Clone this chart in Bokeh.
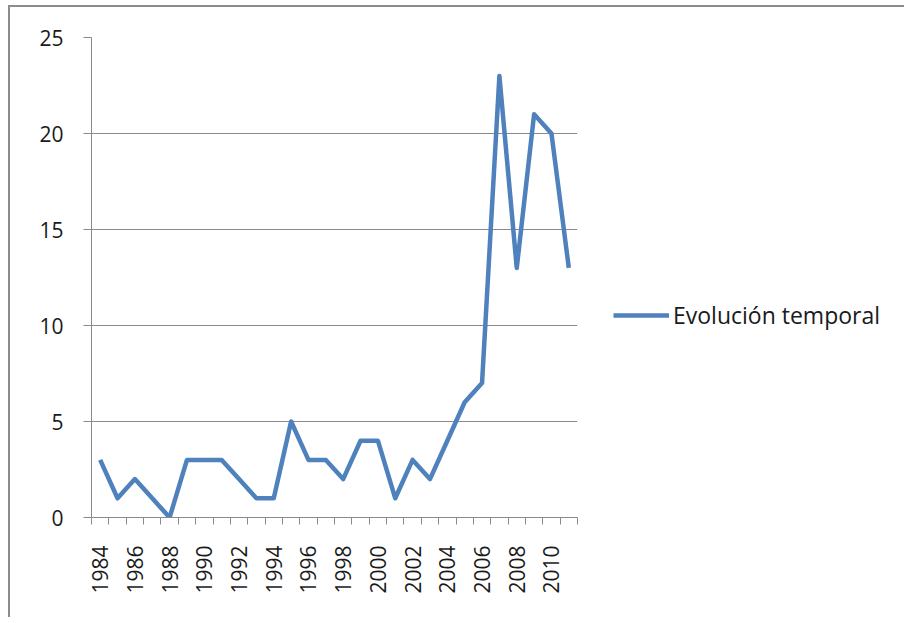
from bokeh.plotting import figure
from bokeh.models import FixedTicker, Legend, LegendItem, Range1d
from bokeh.embed import file_html
from bokeh.resources import INLINE
import math

years = list(range(1984, 2012))
values = [3, 1, 2, 1, 0, 3, 3, 3, 2, 1, 1, 5, 3, 3, 2, 4, 4, 1, 3, 2, 4, 6, 7, 23, 13, 21, 20, 13]
series_name = "Evolución temporal"
x_labels = [y for y in years if y % 2 == 0]
y_ticks = [0, 5, 10, 15, 20, 25]

FONT = "Open Sans"
GRID = "#8a8a8a"
TXT = "#1a1a1a"

p = figure(frame_width=486, frame_height=480, output_backend="svg", toolbar_location=None,
           x_range=Range1d(1983.5, 2011.5), y_range=Range1d(0, 25),
           min_border_left=81, min_border_top=30, min_border_bottom=100, min_border_right=320)
p.styles = {"border-top": "2px solid #8c8c8c", "border-left": "2px solid #8c8c8c",
            "margin-left": "8px", "margin-top": "5px"}
p.outline_line_color = None
p.background_fill_color = "white"
p.border_fill_color = "white"

r = p.line(years, values, line_color="#4F81BD", line_width=4.5, line_join="round")

p.xaxis.ticker = FixedTicker(ticks=x_labels, minor_ticks=[y - 0.5 for y in years] + [2011.5])
p.xaxis.major_tick_line_color = None
p.xaxis.major_tick_out = 0
p.xaxis.major_tick_in = 0
p.xaxis.minor_tick_in = 0
p.xaxis.minor_tick_out = 7
p.xaxis.minor_tick_line_color = GRID
p.xaxis.axis_line_color = GRID
p.xaxis.major_label_orientation = math.pi / 2
p.xaxis.major_label_standoff = 21
p.xaxis.major_label_text_font = FONT
p.xaxis.major_label_text_font_size = "21px"
p.xaxis.major_label_text_color = TXT

p.yaxis.ticker = FixedTicker(ticks=y_ticks, minor_ticks=[])
p.yaxis.major_tick_in = 0
p.yaxis.major_tick_out = 8
p.yaxis.major_tick_line_color = GRID
p.yaxis.axis_line_color = GRID
p.yaxis.major_label_standoff = 20
p.yaxis.major_label_text_font = FONT
p.yaxis.major_label_text_font_size = "21px"
p.yaxis.major_label_text_color = TXT

p.xgrid.grid_line_color = None
p.ygrid.grid_line_color = GRID
p.ygrid.grid_line_width = 1

legend = Legend(items=[LegendItem(label=series_name, renderers=[r])],
                location=(36, 186), border_line_color=None, background_fill_alpha=0,
                padding=0, margin=0, glyph_width=56, label_standoff=4,
                label_text_font=FONT, label_text_font_size="23px", label_text_color=TXT)
p.add_layout(legend, "right")

open("out.html", "w").write(file_html(p, INLINE))
